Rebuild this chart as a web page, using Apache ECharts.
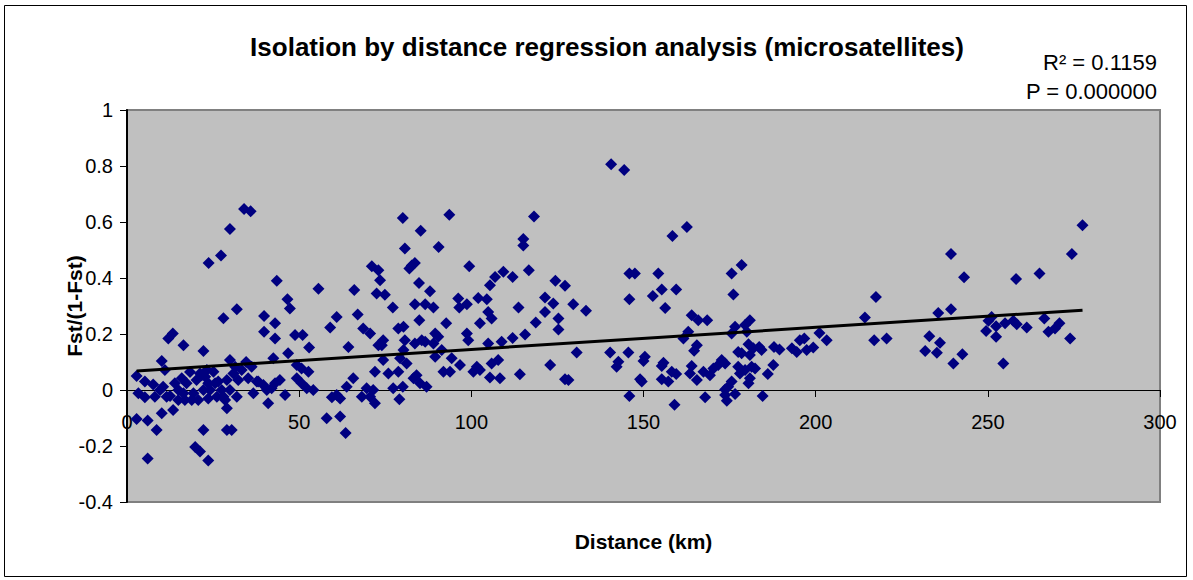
<!DOCTYPE html>
<html>
<head>
<meta charset="utf-8">
<title>Isolation by distance regression analysis (microsatellites)</title>
<script src="https://cdn.jsdelivr.net/npm/echarts@6/dist/echarts.min.js"></script>
<style>
  html, body { margin: 0; padding: 0; background: #fff; }
  #chart { width: 1193px; height: 580px; }
</style>
</head>
<body>
<div id="chart"></div>
<script>
// pairwise distance (km) and Fst/(1-Fst)
var distance = [
  2.8, 5.2, 7.6, 3.3, 5.2, 2.8, 6.0, 8.6, 6.0, 10.1, 12.0, 13.3, 16.4, 10.1, 13.4, 8.1, 9.6, 10.5, 11.5, 13.9,
  14.9, 15.9, 16.4, 17.3, 14.9, 16.8, 22.2, 22.2, 19.8, 21.2, 23.6, 20.2, 21.2, 22.7, 23.6, 22.2, 19.3, 20.7, 24.1, 25.6,
  26.1, 25.1, 23.2, 28.0, 31.9, 29.0, 29.0, 30.4, 29.9, 31.4, 29.0, 29.9, 31.9, 27.5, 28.0, 30.9, 32.3, 33.3, 35.2, 36.2,
  36.7, 37.7, 39.6, 41.0, 40.6, 42.0, 43.0, 44.4, 39.8, 43.0, 39.8, 43.0, 47.3, 42.5, 46.8, 48.8, 51.0, 52.9, 49.3, 50.7,
  52.7, 49.3, 50.7, 52.2, 54.1, 59.0, 60.9, 59.5, 61.9, 60.9, 58.0, 61.9, 63.5, 64.3, 65.7, 63.8, 67.0, 68.2, 69.6, 70.6,
  72.0, 72.0, 73.0, 68.6, 70.6, 34.0, 35.9, 29.9, 27.3, 23.7, 43.5, 46.6, 55.6, 66.0, 71.1, 73.0, 73.5, 72.5, 74.9, 80.1,
  93.6, 118.2, 85.3, 80.7, 90.5, 115.1, 115.1, 140.6, 144.4, 82.7, 83.6, 82.0, 84.8, 88.0, 99.4, 109.3, 112.0, 106.9, 105.4, 116.7,
  124.4, 127.2, 96.2, 102.0, 104.5, 121.4, 83.6, 86.6, 129.6, 145.9, 77.2, 89.0, 96.5, 104.9, 105.9, 113.7, 123.8, 121.4, 133.3, 125.3,
  125.3, 118.7, 115.6, 112.0, 84.9, 92.7, 102.5, 78.8, 80.3, 89.5, 90.4, 98.7, 99.1, 74.4, 74.0, 80.7, 83.6, 85.6, 86.6, 104.9,
  108.8, 91.4, 80.3, 130.6, 140.3, 145.6, 74.4, 79.3, 81.2, 89.5, 94.3, 96.7, 101.6, 102.5, 105.9, 107.8, 122.9, 142.7, 142.2, 75.9,
  78.8, 84.1, 83.2, 85.1, 87.0, 91.9, 93.8, 100.6, 105.4, 108.3, 114.1, 127.2, 128.2, 71.5, 77.3, 80.1, 79.1, 145.9, 158.4, 162.6,
  147.5, 154.3, 155.3, 159.5, 152.7, 145.9, 175.6, 178.5, 176.1, 217.5, 156.3, 164.0, 165.9, 168.5, 161.6, 163.0, 176.6, 175.6, 179.5, 180.9,
  180.0, 214.3, 217.0, 201.1, 203.2, 195.4, 196.7, 199.3, 197.4, 193.1, 194.5, 187.9, 189.5, 187.7, 186.1, 180.5, 181.9, 183.6, 184.3, 177.5,
  178.5, 180.9, 165.5, 164.7, 150.4, 150.0, 155.8, 155.3, 158.2, 159.5, 155.3, 157.2, 149.0, 149.5, 164.0, 163.5, 165.5, 167.4, 169.3, 170.3,
  171.7, 172.7, 173.7, 177.5, 178.0, 179.5, 181.4, 182.4, 175.6, 174.6, 180.9, 180.5, 159.0, 167.9, 173.7, 174.2, 176.6, 173.7, 184.6, 239.3,
  243.1, 258.2, 265.0, 274.4, 277.5, 220.6, 235.6, 239.3, 233.0, 236.1, 235.2, 231.8, 240.0, 242.6, 251.1, 250.2, 249.5, 252.4, 252.4, 255.0,
  257.4, 258.4, 261.3, 254.5, 266.4, 267.6, 269.5, 270.8, 273.9, 11.0, 21.7, 26.5, 38.1, 18.8, 23.6, 28.5, 12.5, 18.3, 34.6, 45.9,
  98.7, 89.0
];
var fstRatio = [
  0.050, 0.030, 0.020, -0.012, -0.026, -0.104, -0.109, -0.143, -0.245, 0.104, 0.184, 0.202, 0.160, -0.083, -0.071, -0.024, 0.000, 0.012, -0.024, 0.024,
  0.000, 0.042, -0.012, 0.024, -0.036, -0.036, 0.139, -0.143, -0.204, -0.220, -0.252, 0.036, 0.059, 0.047, 0.024, 0.000, -0.012, -0.036, 0.000, 0.024,
  -0.024, 0.065, 0.071, 0.256, 0.288, -0.065, -0.143, -0.143, 0.107, 0.083, 0.036, 0.000, -0.024, 0.000, -0.024, 0.059, 0.036, 0.071, 0.042, 0.083,
  -0.012, 0.030, 0.018, -0.047, 0.000, 0.006, 0.024, 0.036, 0.264, 0.238, 0.208, 0.184, 0.291, 0.113, 0.131, 0.196, 0.196, 0.152, 0.089, 0.077,
  0.065, 0.042, 0.024, 0.006, 0.000, 0.223, 0.261, -0.026, -0.030, -0.018, -0.101, -0.095, -0.154, 0.154, 0.042, 0.012, 0.270, -0.024, 0.006, -0.024,
  -0.047, 0.065, 0.160, 0.220, 0.202, 0.646, 0.638, 0.575, 0.480, 0.454, 0.390, 0.324, 0.362, 0.357, 0.442, 0.428, 0.392, 0.345, 0.340, 0.614,
  0.626, 0.620, 0.569, 0.505, 0.511, 0.539, 0.516, 0.806, 0.786, 0.445, 0.454, 0.434, 0.382, 0.353, 0.442, 0.422, 0.404, 0.404, 0.374, 0.428,
  0.390, 0.372, 0.327, 0.329, 0.324, 0.330, 0.306, 0.306, 0.306, 0.416, 0.295, 0.295, 0.295, 0.279, 0.255, 0.295, 0.309, 0.279, 0.283, 0.255,
  0.216, 0.241, 0.198, 0.186, 0.249, 0.238, 0.238, 0.220, 0.226, 0.202, 0.190, 0.202, 0.178, 0.178, 0.160, 0.178, 0.166, 0.178, 0.172, 0.166,
  0.172, 0.143, 0.143, 0.134, 0.134, 0.134, 0.107, 0.113, 0.095, 0.119, 0.113, 0.089, 0.083, 0.071, 0.095, 0.107, 0.089, 0.101, 0.083, 0.059,
  0.065, 0.053, 0.042, 0.024, 0.012, 0.065, 0.065, 0.065, 0.045, 0.042, 0.056, 0.038, 0.036, 0.000, 0.006, 0.012, -0.033, -0.021, 0.550, 0.582,
  0.416, 0.416, 0.359, 0.359, 0.336, 0.324, 0.416, 0.446, 0.341, 0.332, 0.293, 0.267, 0.249, 0.249, 0.184, 0.208, 0.226, 0.202, 0.232, 0.249,
  0.208, 0.259, 0.178, 0.204, 0.178, 0.178, 0.184, 0.152, 0.143, 0.149, 0.136, 0.154, 0.145, 0.089, 0.057, 0.163, 0.149, 0.154, 0.143, 0.136,
  0.131, 0.125, 0.160, 0.140, 0.119, 0.104, 0.097, 0.086, 0.065, 0.057, 0.038, 0.030, 0.038, 0.030, 0.086, 0.059, 0.036, 0.065, 0.053, 0.077,
  0.089, 0.107, 0.095, 0.083, 0.059, 0.071, 0.083, 0.077, 0.030, 0.012, 0.042, 0.024, -0.053, -0.026, -0.018, -0.038, -0.014, 0.002, -0.021, 0.486,
  0.403, 0.396, 0.416, 0.486, 0.588, 0.184, 0.275, 0.288, 0.192, 0.169, 0.133, 0.139, 0.095, 0.128, 0.261, 0.247, 0.211, 0.228, 0.190, 0.238,
  0.247, 0.235, 0.223, 0.095, 0.255, 0.208, 0.220, 0.238, 0.184, 0.071, 0.053, 0.030, 0.030, -0.036, -0.030, -0.036, -0.021, 0.064, 0.100, -0.018,
  0.306, 0.166
];

// fitted regression line, end points as drawn
var trendX = [2.8, 277.5];
var trendY = [0.068, 0.285];

var statLines = ['R² = 0.1159', 'P = 0.000000'];

var FONT = '"Liberation Sans", Arial, sans-serif';

var points = distance.map(function (d, i) { return [d, fstRatio[i]]; });
var trend = trendX.map(function (d, i) { return [d, trendY[i]]; });

// plot box: y from -0.4 (bottom) to 1 (top); the x axis sits on the zero line
var gridTop = 110, gridBottom = 78, yMin = -0.4, yMax = 1;
var plotH = 580 - gridTop - gridBottom;
var zeroShift = -Math.round(plotH * (0 - yMin) / (yMax - yMin));

var chart = echarts.init(document.getElementById('chart'), null, {renderer: 'svg'});

chart.setOption({
  animation: false,
  backgroundColor: '#ffffff',
  title: {
    text: 'Isolation by distance regression analysis (microsatellites)',
    left: 602,
    top: 29,
    textAlign: 'center',
    textStyle: {fontFamily: FONT, fontSize: 26, fontWeight: 'bold', color: '#000'}
  },
  grid: {
    left: 127,
    right: 33,
    top: gridTop,
    bottom: gridBottom,
    outerBoundsMode: 'none',
    containLabel: false,
    show: true,
    backgroundColor: '#c0c0c0',
    borderColor: '#808080',
    borderWidth: 2
  },
  xAxis: {
    type: 'value',
    min: 0,
    max: 300,
    interval: 50,
    offset: zeroShift,
    name: 'Distance (km)',
    nameLocation: 'middle',
    nameGap: 141,
    nameMoveOverlap: false,
    nameTextStyle: {fontFamily: FONT, fontSize: 21, fontWeight: 'bold', color: '#000'},
    axisLine: {onZero: false, lineStyle: {color: '#000', width: 1}},
    axisTick: {show: true, inside: false, length: 7, lineStyle: {color: '#000'}},
    axisLabel: {margin: 22, fontFamily: FONT, fontSize: 20, color: '#000'},
    splitLine: {show: false}
  },
  yAxis: {
    type: 'value',
    min: yMin,
    max: yMax,
    interval: 0.2,
    name: 'Fst/(1-Fst)',
    nameLocation: 'middle',
    nameGap: 42,
    nameMoveOverlap: false,
    nameTextStyle: {fontFamily: FONT, fontSize: 21, fontWeight: 'bold', color: '#000'},
    axisLine: {onZero: false, lineStyle: {color: '#000', width: 2}},
    axisTick: {show: true, inside: false, length: 7, lineStyle: {color: '#000'}},
    axisLabel: {
      margin: 14,
      fontFamily: FONT,
      fontSize: 20,
      color: '#000',
      formatter: function (v) { return String(Math.round(v * 10) / 10); }
    },
    splitLine: {show: false}
  },
  graphic: [
    {
      type: 'rect',
      shape: {x: 4.5, y: 5.5, width: 1182, height: 571},
      style: {fill: 'none', stroke: '#000', lineWidth: 1},
      silent: true,
      z: -1
    },
    {
      type: 'text',
      right: 36,
      top: 51,
      style: {text: statLines[0], font: '22px ' + FONT, fill: '#000', textAlign: 'right'}
    },
    {
      type: 'text',
      right: 36,
      top: 80,
      style: {text: statLines[1], font: '22px ' + FONT, fill: '#000', textAlign: 'right'}
    }
  ],
  series: [
    {
      type: 'scatter',
      data: points,
      symbol: 'diamond',
      symbolSize: 12,
      itemStyle: {color: '#000080', opacity: 1},
      z: 2
    },
    {
      type: 'line',
      data: trend,
      symbol: 'none',
      lineStyle: {color: '#000', width: 3},
      z: 3
    }
  ]
});
</script>
</body>
</html>
